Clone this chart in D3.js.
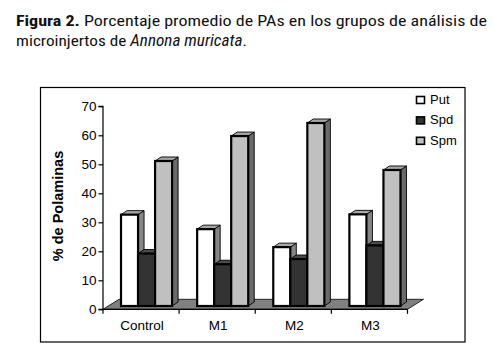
<!DOCTYPE html>
<html><head><meta charset="utf-8">
<script src="https://cdn.jsdelivr.net/npm/d3@7"></script>
<style>body{margin:0;background:#fff}svg{display:block}</style>
</head><body>
<script>
const categories = ["Control", "M1", "M2", "M3"];
const seriesNames = ["Put", "Spd", "Spm"];
const putValues = [31.5, 26.5, 20.3, 31.6];
const spdValues = [18.1, 14.4, 16.2, 20.9];
const spmValues = [50.0, 58.6, 63.1, 46.9];
const yTicks = [0, 10, 20, 30, 40, 50, 60, 70];
const titleBold = "Figura 2.";
const titleRest = " Porcentaje promedio de PAs en los grupos de análisis de";
const titleLine2a = "microinjertos de ";
const titleLine2b = "Annona muricata";
const titleLine2c = ".";
const yLabel = "% de Polaminas";

const values = [putValues, spdValues, spmValues];
const faceColors = ["#ffffff", "#333333", "#c0c0c0"];
const topColors = ["#a8a8a8", "#4a4a4a", "#a6a6a6"];
const sideColors = ["#858585", "#262626", "#6a6a6a"];

const W = 494, H = 359;
const svg = d3.select("body").append("svg").attr("width", W).attr("height", H);

// Title
const tfont = "'Liberation Sans Narrow','Arial Narrow','Roboto Condensed',Roboto,'Liberation Sans',sans-serif";
const t1 = svg.append("text").attr("x", 16).attr("y", 26)
  .attr("font-family", tfont).attr("font-size", 15.5).attr("fill", "#111")
  .attr("textLength", 471).attr("lengthAdjust", "spacingAndGlyphs");
t1.append("tspan").attr("font-weight", "bold").text(titleBold);
t1.append("tspan").text(titleRest);
const t2 = svg.append("text").attr("x", 16).attr("y", 45.5)
  .attr("font-family", tfont).attr("font-size", 15.5).attr("fill", "#111")
  .attr("textLength", 231).attr("lengthAdjust", "spacingAndGlyphs");
t2.append("tspan").text(titleLine2a);
t2.append("tspan").attr("font-style", "italic").text(titleLine2b);
t2.append("tspan").text(titleLine2c);

// Frame
svg.append("rect").attr("x", 40.5).attr("y", 87.5).attr("width", 424.5).attr("height", 254.5)
  .attr("fill", "none").attr("stroke", "#000").attr("stroke-width", 1.2);

const font = "'Liberation Sans',Arial,sans-serif";
const y = d3.scaleLinear().domain([0, 70]).range([309.3, 106.3]);
const x0 = d3.scaleBand().domain(categories).range([103, 407.5]);
const x1 = d3.scaleBand().domain(seriesNames).range([0, x0.bandwidth()]).paddingInner(0).paddingOuter(0.735);

const floorD = [16, -10];
const frontOff = [5.5, -3.3];
const barD = [6, -4];

// Floor
const fx0 = x0.range()[0], fx1 = x0.range()[1], fy = y(0);
svg.append("path")
  .attr("d", `M${fx0},${fy}L${fx1},${fy}L${fx1+floorD[0]},${fy+floorD[1]}L${fx0+floorD[0]},${fy+floorD[1]}Z`)
  .attr("fill", "#808080").attr("stroke", "#000").attr("stroke-width", 0.8);

// Y axis
const yAxis = d3.axisLeft(y).tickValues(yTicks).tickSize(4.5).tickPadding(2);
const ya = svg.append("g").attr("transform", "translate(103,0)").call(yAxis);
ya.select(".domain").attr("stroke", "#000").attr("stroke-width", 1.2).attr("d", `M-4.5,${y(70)}H0V${y(0)}H-4.5`);
ya.selectAll(".tick line").attr("stroke", "#000").attr("stroke-width", 1.2);
ya.selectAll("text").attr("font-family", font).attr("font-size", 13.5).attr("fill", "#000");

// X axis ticks
const xa = svg.append("g");
xa.append("line").attr("x1", fx0).attr("x2", fx1).attr("y1", fy).attr("y2", fy).attr("stroke", "#000").attr("stroke-width", 1.2);
const bounds = categories.map(c => x0(c)).concat([fx1]);
xa.selectAll("line.t").data(bounds).join("line").attr("class", "t")
  .attr("x1", d => d).attr("x2", d => d).attr("y1", fy).attr("y2", fy + 4.5)
  .attr("stroke", "#000").attr("stroke-width", 1.2);
xa.selectAll("text").data(categories).join("text")
  .attr("x", d => x0(d) + x0.bandwidth() / 2 + 1).attr("y", 329.5)
  .attr("text-anchor", "middle").attr("font-family", font).attr("font-size", 13.5).attr("fill", "#000")
  .text(d => d);

// Bars
categories.forEach((c, ci) => {
  const g = svg.append("g");
  seriesNames.forEach((s, si) => {
    const v = values[si][ci];
    const xl = x0(c) + x1(s) + frontOff[0];
    const xr = xl + x1.bandwidth();
    const yb = y(0) + frontOff[1];
    const yt = y(v) + frontOff[1];
    g.append("path").attr("d", `M${xr},${yb}L${xr+barD[0]},${yb+barD[1]}L${xr+barD[0]},${yt+barD[1]}L${xr},${yt}Z`)
      .attr("fill", sideColors[si]).attr("stroke", "#000").attr("stroke-width", 0.9).attr("stroke-linejoin", "round");
    g.append("path").attr("d", `M${xl},${yt}L${xr},${yt}L${xr+barD[0]},${yt+barD[1]}L${xl+barD[0]},${yt+barD[1]}Z`)
      .attr("fill", topColors[si]).attr("stroke", "#000").attr("stroke-width", 0.9).attr("stroke-linejoin", "round");
    g.append("rect").attr("x", xl).attr("y", yt).attr("width", xr - xl).attr("height", yb - yt)
      .attr("fill", faceColors[si]).attr("stroke", "#000").attr("stroke-width", 2.2);
  });
});

// Y label
svg.append("text").attr("transform", "translate(63,206) rotate(-90)")
  .attr("text-anchor", "middle").attr("font-family", font).attr("font-weight", "bold")
  .attr("font-size", 14.5).attr("fill", "#000").text(yLabel);

// Legend
const lg = svg.append("g");
seriesNames.forEach((s, i) => {
  const by = 104 + i * 20.4;
  lg.append("rect").attr("x", 416.5).attr("y", by - 7.5).attr("width", 8).attr("height", 7)
    .attr("fill", faceColors[i]).attr("stroke", "#000").attr("stroke-width", 1.6);
  lg.append("text").attr("x", 430).attr("y", by).attr("font-family", font).attr("font-size", 13)
    .attr("fill", "#000").text(s);
});
</script>
</body></html>
